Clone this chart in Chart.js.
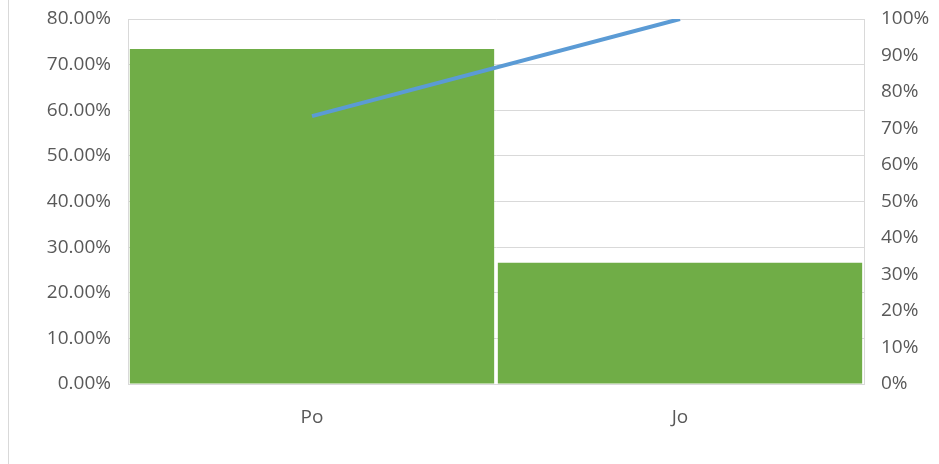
<!DOCTYPE html>
<html>
<head>
<meta charset="utf-8">
<script src="https://cdn.jsdelivr.net/npm/chart.js@4/dist/chart.umd.min.js"></script>
<style>
  html, body { margin: 0; padding: 0; background: #fff; }
  #wrap { position: relative; width: 939px; height: 464px; }
  #edge { position: absolute; left: 8px; top: 0; bottom: 0; border-left: 1px solid #d9d9d9; }
</style>
</head>
<body>
<div id="wrap">
  <div id="edge"></div>
  <canvas id="chart" width="939" height="464"></canvas>
</div>
<script>
// data
const categories = ["Po", "Jo"];
const shareValues = [73.4, 26.6];      // bars, left axis
const cumulativeValues = [73.4, 100];  // line, right axis

const leftTicks = { max: 80, step: 10 };
const rightTicks = { max: 100, step: 10 };

const textColor = "#595959";
const gridColor = "#d9d9d9";
const font = { family: "'Open Sans', 'Noto Sans', sans-serif", size: 19 };

// keep the plot top at the same place as the reference
function fixY(width) {
  return (s) => {
    s.width = width;
    s.paddingTop = 19;
    s.paddingBottom = 0;
  };
}

const ctx = document.getElementById("chart").getContext("2d");
new Chart(ctx, {
  data: {
    labels: categories,
    datasets: [
      {
        type: "line",
        data: cumulativeValues,
        yAxisID: "y1",
        borderColor: "#5b9bd5",
        borderWidth: 4,
        pointRadius: 0,
        tension: 0,
        order: 0,
      },
      {
        type: "bar",
        data: shareValues,
        yAxisID: "y",
        backgroundColor: "#70ad47",
        barPercentage: 0.99,
        categoryPercentage: 1.0,
        order: 1,
      },
    ],
  },
  options: {
    responsive: false,
    animation: false,
    layout: { padding: 0 },
    plugins: { legend: { display: false }, tooltip: { enabled: false } },
    scales: {
      x: {
        grid: { display: false, drawTicks: false },
        border: { color: gridColor },
        ticks: { color: textColor, font: font, padding: 22 },
        afterFit: (s) => { s.height = 80; },
      },
      y: {
        position: "left",
        min: 0,
        max: leftTicks.max,
        ticks: {
          stepSize: leftTicks.step,
          color: textColor,
          font: font,
          padding: 17,
          callback: (v) => v.toFixed(2) + "%",
        },
        grid: { color: gridColor, drawTicks: false },
        border: { color: gridColor },
        afterFit: fixY(128),
      },
      y1: {
        position: "right",
        min: 0,
        max: rightTicks.max,
        ticks: {
          stepSize: rightTicks.step,
          color: textColor,
          font: font,
          padding: 17,
          callback: (v) => v + "%",
        },
        grid: { display: false, drawTicks: false },
        border: { color: gridColor },
        afterFit: fixY(75),
      },
    },
  },
});
</script>
</body>
</html>
